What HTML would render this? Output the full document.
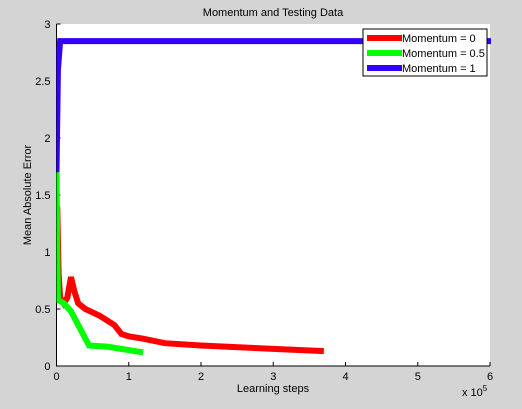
<!DOCTYPE html>
<html><head><meta charset="utf-8"><style>
body{margin:0;background:#d4d4d4;}
svg{display:block;font-family:"Liberation Sans",sans-serif;}
</style></head><body>
<svg width="522" height="409">
<rect width="522" height="409" fill="#d4d4d4"/>
<g id="plot"></g>
</svg>
<script>
const xTicks=[0,1,2,3,4,5,6];
const yTicks=[0,0.5,1,1.5,2,2.5,3];
const seriesNames=["Momentum = 0","Momentum = 0.5","Momentum = 1"];
const redX=[0.01,0.03,0.05,0.1,0.15,0.2,0.25,0.3,0.4,0.6,0.8,0.9,1.0,1.2,1.5,2,3,3.7];
const redY=[1.4,0.8,0.6,0.55,0.6,0.78,0.65,0.55,0.5,0.44,0.36,0.28,0.26,0.24,0.2,0.18,0.15,0.13];
const greenX=[0,0.01,0.02,0.1,0.2,0.35,0.45,0.7,1.0,1.2];
const greenY=[1.7,1.0,0.58,0.55,0.48,0.3,0.18,0.17,0.14,0.12];
const blueX=[0,0.02,0.05,0.1,6.05];
const blueY=[1.7,2.6,2.85,2.85,2.85];
const L=56.5,R=490,T=24,B=366;
const sx=v=>L+v/6*(R-L), sy=v=>B-v/3*(B-T);
const ns="http://www.w3.org/2000/svg";
const g=document.getElementById('plot');
function mk(t,a,p){const e=document.createElementNS(ns,t);for(const k in a)e.setAttribute(k,a[k]);(p||g).appendChild(e);return e;}
const bg=mk('rect',{x:L,y:T,width:R-L,height:B-T,fill:'#fff'});


const ax=mk('path',{d:`M${L},${T}V${B}H${R}`,stroke:'#000',fill:'none','stroke-width':1});


xTicks.forEach(v=>{const x=sx(v);mk('line',{x1:x,x2:x,y1:B,y2:B-4,stroke:'#000'});
 const t=mk('text',{x:x,y:B+14,'font-size':11,'text-anchor':'middle'});t.textContent=v;
 
 });
yTicks.forEach(v=>{const y=sy(v);mk('line',{x1:L,x2:L+4,y1:y,y2:y,stroke:'#000'});
 const t=mk('text',{x:L-6,y:y+4,'font-size':11,'text-anchor':'end'});t.textContent=v;
 
 });
const clip=mk('clipPath',{id:'c'});mk('rect',{x:L,y:T,width:R-L+1,height:B-T},clip);
function line(xs,ys,col,name){const p=mk('polyline',{points:xs.map((x,i)=>sx(x)+','+sy(ys[i])).join(' '),fill:'none',stroke:col,'stroke-width':6,'clip-path':'url(#c)'});
 
 }
line(redX,redY,'#ff0000','series-momentum-0');
line(greenX,greenY,'#00ff00','series-momentum-0.5');
line(blueX,blueY,'#3300ff','series-momentum-1');
const lg=mk('g',{});


mk('rect',{x:363,y:29,width:124,height:47,fill:'#fff',stroke:'#000'},lg);
const cols=['#ff0000','#00ff00','#3300ff'];
seriesNames.forEach((n,i)=>{const y=38+i*15;
 mk('line',{x1:367,x2:402,y1:y,y2:y,stroke:cols[i],'stroke-width':6},lg);
 const t=mk('text',{x:402,y:y+4,'font-size':11},lg);t.textContent=n;
 
 });
const tt=mk('text',{x:273,y:16,'font-size':11,'text-anchor':'middle'});tt.textContent='Momentum and Testing Data';


const xl=mk('text',{x:273,y:392,'font-size':11,'text-anchor':'middle'});xl.textContent='Learning steps';


const yl=mk('text',{x:0,y:0,'font-size':11,'text-anchor':'middle',transform:'translate(31,195) rotate(-90)'});yl.textContent='Mean Absolute Error';


const ex=mk('text',{x:462,y:396,'font-size':11});ex.innerHTML='x 10<tspan dy="-5" font-size="8">5</tspan>';


</script>
</body></html>
